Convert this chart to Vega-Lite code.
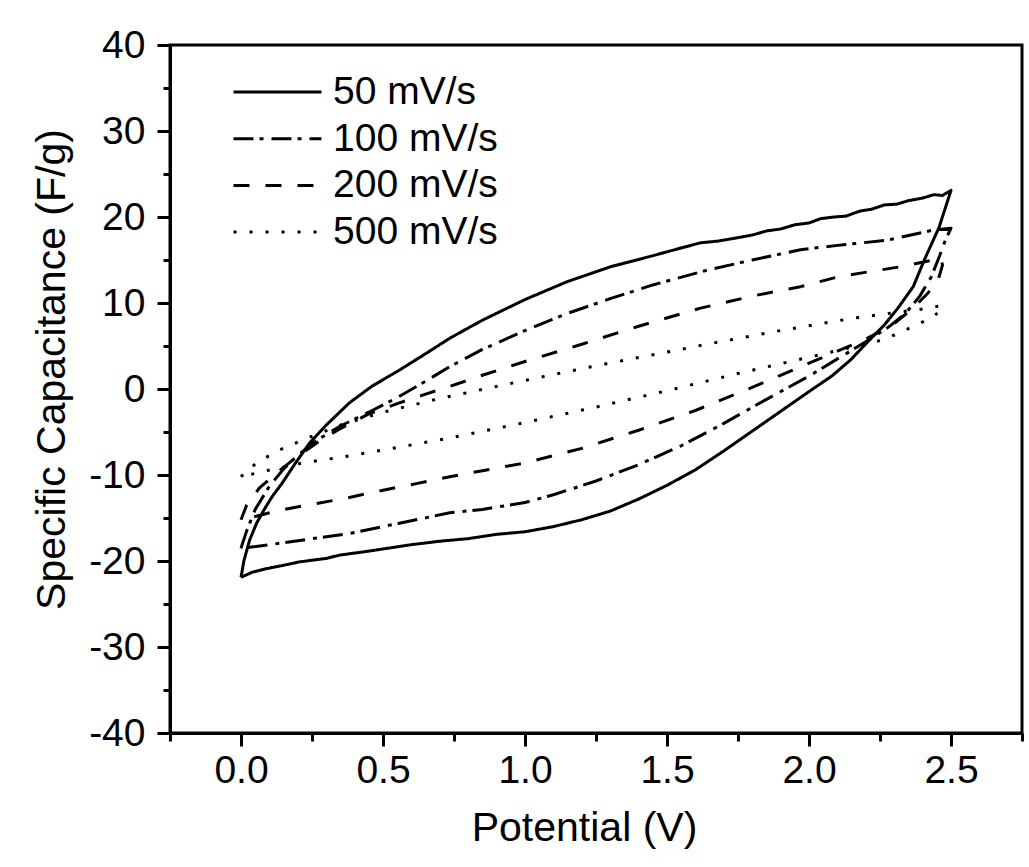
{
  "$schema": "https://vega.github.io/schema/vega-lite/v6.json",
  "width": 852,
  "height": 688,
  "autosize": {"type": "none"},
  "padding": {"left": 170, "top": 45, "right": 7, "bottom": 134},
  "background": "white",
  "config": {
    "font": "Liberation Sans",
    "view": {"stroke": "black", "strokeWidth": 3},
    "axis": {"grid": false, "domainColor": "black", "domainWidth": 3, "tickColor": "black", "tickWidth": 3, "labelColor": "black", "titleColor": "black", "labelFont": "Liberation Sans", "titleFont": "Liberation Sans", "labelFontWeight": "normal", "titleFontWeight": "normal", "labelFlush": false, "labelOverlap": false}
  },
  "data": {"values": [
    {"s":"50 mV/s","i":0,"v":0.0,"c":-21.9},{"s":"50 mV/s","i":1,"v":0.01,"c":-20.0},{"s":"50 mV/s","i":2,"v":0.03,"c":-17.6},{"s":"50 mV/s","i":3,"v":0.055,"c":-15.6},{"s":"50 mV/s","i":4,"v":0.08,"c":-14.1},{"s":"50 mV/s","i":5,"v":0.11,"c":-12.5},{"s":"50 mV/s","i":6,"v":0.146,"c":-10.9},{"s":"50 mV/s","i":7,"v":0.19,"c":-8.7},{"s":"50 mV/s","i":8,"v":0.241,"c":-6.3},{"s":"50 mV/s","i":9,"v":0.3,"c":-4.2},{"s":"50 mV/s","i":10,"v":0.382,"c":-1.6},{"s":"50 mV/s","i":11,"v":0.46,"c":0.3},{"s":"50 mV/s","i":12,"v":0.558,"c":2.2},{"s":"50 mV/s","i":13,"v":0.65,"c":4.1},{"s":"50 mV/s","i":14,"v":0.735,"c":5.9},{"s":"50 mV/s","i":15,"v":0.85,"c":8.0},{"s":"50 mV/s","i":16,"v":1.0,"c":10.4},{"s":"50 mV/s","i":17,"v":1.15,"c":12.5},{"s":"50 mV/s","i":18,"v":1.3,"c":14.2},{"s":"50 mV/s","i":19,"v":1.45,"c":15.5},{"s":"50 mV/s","i":20,"v":1.55,"c":16.4},{"s":"50 mV/s","i":21,"v":1.618,"c":17.0},{"s":"50 mV/s","i":22,"v":1.68,"c":17.2},{"s":"50 mV/s","i":23,"v":1.75,"c":17.6},{"s":"50 mV/s","i":24,"v":1.8,"c":17.9},{"s":"50 mV/s","i":25,"v":1.853,"c":18.4},{"s":"50 mV/s","i":26,"v":1.9,"c":18.6},{"s":"50 mV/s","i":27,"v":1.95,"c":19.1},{"s":"50 mV/s","i":28,"v":2.0,"c":19.3},{"s":"50 mV/s","i":29,"v":2.04,"c":19.8},{"s":"50 mV/s","i":30,"v":2.088,"c":20.0},{"s":"50 mV/s","i":31,"v":2.13,"c":20.1},{"s":"50 mV/s","i":32,"v":2.18,"c":20.7},{"s":"50 mV/s","i":33,"v":2.22,"c":20.9},{"s":"50 mV/s","i":34,"v":2.265,"c":21.4},{"s":"50 mV/s","i":35,"v":2.31,"c":21.5},{"s":"50 mV/s","i":36,"v":2.35,"c":21.9},{"s":"50 mV/s","i":37,"v":2.4,"c":22.2},{"s":"50 mV/s","i":38,"v":2.44,"c":22.6},{"s":"50 mV/s","i":39,"v":2.47,"c":22.5},{"s":"50 mV/s","i":40,"v":2.5,"c":23.1},{"s":"50 mV/s","i":41,"v":2.458,"c":18.8},{"s":"50 mV/s","i":42,"v":2.406,"c":15.0},{"s":"50 mV/s","i":43,"v":2.367,"c":11.9},{"s":"50 mV/s","i":44,"v":2.313,"c":9.4},{"s":"50 mV/s","i":45,"v":2.264,"c":7.4},{"s":"50 mV/s","i":46,"v":2.207,"c":5.5},{"s":"50 mV/s","i":47,"v":2.147,"c":3.4},{"s":"50 mV/s","i":48,"v":2.08,"c":1.5},{"s":"50 mV/s","i":49,"v":2.0,"c":-0.3},{"s":"50 mV/s","i":50,"v":1.9,"c":-2.6},{"s":"50 mV/s","i":51,"v":1.8,"c":-4.9},{"s":"50 mV/s","i":52,"v":1.7,"c":-7.2},{"s":"50 mV/s","i":53,"v":1.6,"c":-9.4},{"s":"50 mV/s","i":54,"v":1.5,"c":-11.2},{"s":"50 mV/s","i":55,"v":1.4,"c":-12.8},{"s":"50 mV/s","i":56,"v":1.3,"c":-14.2},{"s":"50 mV/s","i":57,"v":1.2,"c":-15.2},{"s":"50 mV/s","i":58,"v":1.1,"c":-16.0},{"s":"50 mV/s","i":59,"v":1.0,"c":-16.6},{"s":"50 mV/s","i":60,"v":0.9,"c":-16.9},{"s":"50 mV/s","i":61,"v":0.8,"c":-17.4},{"s":"50 mV/s","i":62,"v":0.7,"c":-17.7},{"s":"50 mV/s","i":63,"v":0.6,"c":-18.1},{"s":"50 mV/s","i":64,"v":0.5,"c":-18.6},{"s":"50 mV/s","i":65,"v":0.44,"c":-18.9},{"s":"50 mV/s","i":66,"v":0.35,"c":-19.3},{"s":"50 mV/s","i":67,"v":0.3,"c":-19.7},{"s":"50 mV/s","i":68,"v":0.206,"c":-20.1},{"s":"50 mV/s","i":69,"v":0.15,"c":-20.5},{"s":"50 mV/s","i":70,"v":0.088,"c":-20.9},{"s":"50 mV/s","i":71,"v":0.04,"c":-21.3},{"s":"50 mV/s","i":72,"v":0.0,"c":-21.9},

    {"s":"100 mV/s","i":0,"v":0.0,"c":-18.5},{"s":"100 mV/s","i":1,"v":0.02,"c":-16.5},{"s":"100 mV/s","i":2,"v":0.05,"c":-14.0},{"s":"100 mV/s","i":3,"v":0.1,"c":-11.3},{"s":"100 mV/s","i":4,"v":0.15,"c":-9.3},{"s":"100 mV/s","i":5,"v":0.2,"c":-7.7},{"s":"100 mV/s","i":6,"v":0.27,"c":-5.9},{"s":"100 mV/s","i":7,"v":0.35,"c":-4.3},{"s":"100 mV/s","i":8,"v":0.45,"c":-2.7},{"s":"100 mV/s","i":9,"v":0.55,"c":-1.0},{"s":"100 mV/s","i":10,"v":0.65,"c":0.9},{"s":"100 mV/s","i":11,"v":0.735,"c":2.6},{"s":"100 mV/s","i":12,"v":0.85,"c":4.6},{"s":"100 mV/s","i":13,"v":1.0,"c":6.8},{"s":"100 mV/s","i":14,"v":1.15,"c":8.8},{"s":"100 mV/s","i":15,"v":1.3,"c":10.5},{"s":"100 mV/s","i":16,"v":1.45,"c":12.1},{"s":"100 mV/s","i":17,"v":1.64,"c":13.8},{"s":"100 mV/s","i":18,"v":1.8,"c":15.0},{"s":"100 mV/s","i":19,"v":1.97,"c":16.2},{"s":"100 mV/s","i":20,"v":2.1,"c":16.7},{"s":"100 mV/s","i":21,"v":2.276,"c":17.3},{"s":"100 mV/s","i":22,"v":2.44,"c":18.5},{"s":"100 mV/s","i":23,"v":2.5,"c":18.7},{"s":"100 mV/s","i":24,"v":2.48,"c":17.3},{"s":"100 mV/s","i":25,"v":2.46,"c":15.5},{"s":"100 mV/s","i":26,"v":2.43,"c":13.0},{"s":"100 mV/s","i":27,"v":2.39,"c":10.8},{"s":"100 mV/s","i":28,"v":2.34,"c":8.8},{"s":"100 mV/s","i":29,"v":2.28,"c":7.2},{"s":"100 mV/s","i":30,"v":2.2,"c":5.5},{"s":"100 mV/s","i":31,"v":2.1,"c":3.5},{"s":"100 mV/s","i":32,"v":2.0,"c":1.5},{"s":"100 mV/s","i":33,"v":1.85,"c":-1.2},{"s":"100 mV/s","i":34,"v":1.7,"c":-4.0},{"s":"100 mV/s","i":35,"v":1.55,"c":-6.6},{"s":"100 mV/s","i":36,"v":1.4,"c":-8.8},{"s":"100 mV/s","i":37,"v":1.25,"c":-10.7},{"s":"100 mV/s","i":38,"v":1.1,"c":-12.3},{"s":"100 mV/s","i":39,"v":1.0,"c":-13.2},{"s":"100 mV/s","i":40,"v":0.85,"c":-14.0},{"s":"100 mV/s","i":41,"v":0.735,"c":-14.4},{"s":"100 mV/s","i":42,"v":0.558,"c":-15.6},{"s":"100 mV/s","i":43,"v":0.382,"c":-16.8},{"s":"100 mV/s","i":44,"v":0.25,"c":-17.4},{"s":"100 mV/s","i":45,"v":0.146,"c":-17.9},{"s":"100 mV/s","i":46,"v":0.03,"c":-18.4},{"s":"100 mV/s","i":47,"v":0.0,"c":-18.5},

    {"s":"200 mV/s","i":0,"v":0.0,"c":-15.2},{"s":"200 mV/s","i":1,"v":0.02,"c":-13.5},{"s":"200 mV/s","i":2,"v":0.065,"c":-11.5},{"s":"200 mV/s","i":3,"v":0.135,"c":-9.5},{"s":"200 mV/s","i":4,"v":0.2,"c":-7.8},{"s":"200 mV/s","i":5,"v":0.27,"c":-6.2},{"s":"200 mV/s","i":6,"v":0.35,"c":-4.6},{"s":"200 mV/s","i":7,"v":0.45,"c":-2.9},{"s":"200 mV/s","i":8,"v":0.55,"c":-1.7},{"s":"200 mV/s","i":9,"v":0.65,"c":-0.6},{"s":"200 mV/s","i":10,"v":0.735,"c":0.3},{"s":"200 mV/s","i":11,"v":0.85,"c":1.6},{"s":"200 mV/s","i":12,"v":1.0,"c":3.2},{"s":"200 mV/s","i":13,"v":1.2,"c":5.2},{"s":"200 mV/s","i":14,"v":1.4,"c":7.3},{"s":"200 mV/s","i":15,"v":1.618,"c":9.4},{"s":"200 mV/s","i":16,"v":1.8,"c":10.8},{"s":"200 mV/s","i":17,"v":1.97,"c":11.9},{"s":"200 mV/s","i":18,"v":2.11,"c":13.1},{"s":"200 mV/s","i":19,"v":2.32,"c":14.2},{"s":"200 mV/s","i":20,"v":2.465,"c":15.2},{"s":"200 mV/s","i":21,"v":2.47,"c":14.4},{"s":"200 mV/s","i":22,"v":2.455,"c":12.7},{"s":"200 mV/s","i":23,"v":2.42,"c":11.2},{"s":"200 mV/s","i":24,"v":2.37,"c":9.5},{"s":"200 mV/s","i":25,"v":2.3,"c":7.6},{"s":"200 mV/s","i":26,"v":2.2,"c":5.8},{"s":"200 mV/s","i":27,"v":2.1,"c":4.4},{"s":"200 mV/s","i":28,"v":2.0,"c":3.0},{"s":"200 mV/s","i":29,"v":1.8,"c":0.2},{"s":"200 mV/s","i":30,"v":1.6,"c":-2.5},{"s":"200 mV/s","i":31,"v":1.4,"c":-4.8},{"s":"200 mV/s","i":32,"v":1.2,"c":-6.9},{"s":"200 mV/s","i":33,"v":1.0,"c":-8.6},{"s":"200 mV/s","i":34,"v":0.85,"c":-9.5},{"s":"200 mV/s","i":35,"v":0.735,"c":-10.2},{"s":"200 mV/s","i":36,"v":0.618,"c":-11.0},{"s":"200 mV/s","i":37,"v":0.45,"c":-12.1},{"s":"200 mV/s","i":38,"v":0.37,"c":-12.7},{"s":"200 mV/s","i":39,"v":0.25,"c":-13.4},{"s":"200 mV/s","i":40,"v":0.135,"c":-14.1},{"s":"200 mV/s","i":41,"v":0.03,"c":-15.0},{"s":"200 mV/s","i":42,"v":0.0,"c":-15.2},

    {"s":"500 mV/s","i":0,"v":0.0,"c":-10.2},{"s":"500 mV/s","i":1,"v":0.03,"c":-9.2},{"s":"500 mV/s","i":2,"v":0.07,"c":-8.3},{"s":"500 mV/s","i":3,"v":0.135,"c":-7.1},{"s":"500 mV/s","i":4,"v":0.206,"c":-6.1},{"s":"500 mV/s","i":5,"v":0.25,"c":-5.5},{"s":"500 mV/s","i":6,"v":0.35,"c":-4.2},{"s":"500 mV/s","i":7,"v":0.5,"c":-2.7},{"s":"500 mV/s","i":8,"v":0.7,"c":-1.1},{"s":"500 mV/s","i":9,"v":1.0,"c":1.0},{"s":"500 mV/s","i":10,"v":1.25,"c":2.7},{"s":"500 mV/s","i":11,"v":1.5,"c":4.3},{"s":"500 mV/s","i":12,"v":1.664,"c":5.35},{"s":"500 mV/s","i":13,"v":1.9,"c":6.8},{"s":"500 mV/s","i":14,"v":2.15,"c":8.2},{"s":"500 mV/s","i":15,"v":2.26,"c":8.7},{"s":"500 mV/s","i":16,"v":2.4,"c":9.3},{"s":"500 mV/s","i":17,"v":2.465,"c":9.7},{"s":"500 mV/s","i":18,"v":2.47,"c":9.3},{"s":"500 mV/s","i":19,"v":2.44,"c":8.5},{"s":"500 mV/s","i":20,"v":2.4,"c":7.8},{"s":"500 mV/s","i":21,"v":2.33,"c":6.7},{"s":"500 mV/s","i":22,"v":2.26,"c":5.7},{"s":"500 mV/s","i":23,"v":2.0,"c":3.7},{"s":"500 mV/s","i":24,"v":1.75,"c":1.8},{"s":"500 mV/s","i":25,"v":1.5,"c":-0.2},{"s":"500 mV/s","i":26,"v":1.25,"c":-2.1},{"s":"500 mV/s","i":27,"v":1.0,"c":-3.9},{"s":"500 mV/s","i":28,"v":0.735,"c":-5.7},{"s":"500 mV/s","i":29,"v":0.65,"c":-6.2},{"s":"500 mV/s","i":30,"v":0.5,"c":-7.1},{"s":"500 mV/s","i":31,"v":0.358,"c":-7.9},{"s":"500 mV/s","i":32,"v":0.217,"c":-8.6},{"s":"500 mV/s","i":33,"v":0.075,"c":-9.6},{"s":"500 mV/s","i":34,"v":0.005,"c":-10.2}
  ]},
  "layer": [
    {
      "mark": {"type": "line", "color": "black", "strokeWidth": 3, "strokeCap": "butt", "strokeJoin": "round"},
      "encoding": {
        "x": {"field": "v", "type": "quantitative", "scale": {"domain": [-0.25, 2.75], "nice": false, "zero": false},
          "axis": {"orient": "bottom", "values": [0, 0.5, 1, 1.5, 2, 2.5], "format": ".1f", "tickSize": 13, "labelFontSize": 39, "labelPadding": 5, "title": "Potential (V)", "titleFontSize": 41, "titlePadding": 18, "titleX": 414}},
        "y": {"field": "c", "type": "quantitative", "scale": {"domain": [-40, 40], "nice": false, "zero": false},
          "axis": {"orient": "left", "values": [-40, -30, -20, -10, 0, 10, 20, 30, 40], "labelExpr": "toString(datum.value)", "tickSize": 13, "labelFontSize": 39, "labelPadding": 12, "title": "Specific Capacitance (F/g)", "titleFontSize": 41, "titlePadding": 15, "titleY": 324}},
        "strokeDash": {"field": "s", "type": "nominal", "sort": ["50 mV/s", "100 mV/s", "200 mV/s", "500 mV/s"],
          "scale": {"domain": ["50 mV/s", "100 mV/s", "200 mV/s", "500 mV/s"], "range": [[1, 0], [20, 6, 4, 8], [16, 16], [3, 13]]},
          "legend": {"orient": "none", "legendX": 62, "legendY": 25, "title": null, "padding": 0, "symbolType": "stroke", "symbolSize": 7744, "symbolStrokeWidth": 3, "symbolStrokeColor": "black", "symbolOffset": 0, "clipHeight": 44, "rowPadding": 2.7, "labelFontSize": 39, "labelFont": "Liberation Sans", "labelColor": "black", "labelOffset": 10, "labelLimit": 400}},
        "order": {"field": "i", "type": "quantitative"}
      }
    },
    {
      "mark": {"type": "line", "opacity": 0},
      "encoding": {
        "x": {"field": "v", "type": "quantitative", "scale": {"domain": [-0.25, 2.75], "nice": false, "zero": false},
          "axis": {"orient": "bottom", "values": [-0.25, 0.25, 0.75, 1.25, 1.75, 2.25, 2.75], "tickSize": 8, "labels": false, "domain": false, "title": null}},
        "y": {"field": "c", "type": "quantitative", "scale": {"domain": [-40, 40], "nice": false, "zero": false},
          "axis": {"orient": "left", "values": [-35, -25, -15, -5, 5, 15, 25, 35], "tickSize": 7, "labels": false, "domain": false, "title": null}},
        "order": {"field": "i", "type": "quantitative"}
      }
    }
  ],
  "resolve": {"axis": {"x": "independent", "y": "independent"}}
}
